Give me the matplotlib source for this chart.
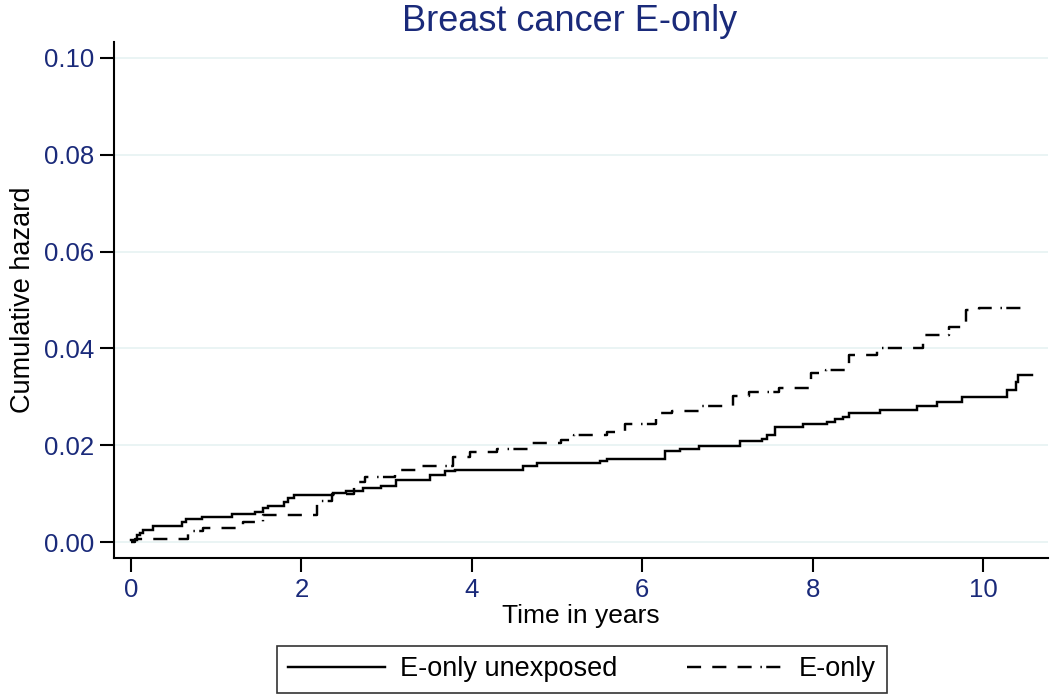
import matplotlib
matplotlib.use("Agg")
import matplotlib.pyplot as plt
from matplotlib.lines import Line2D

plt.rcParams['font.family'] = ['Liberation Sans', 'DejaVu Sans']

# E-only unexposed (solid) step function: event times and cumulative hazard after step
unexp_t = [0.0, 0.07, 0.10, 0.14, 0.26, 0.60, 0.65, 0.83, 1.18, 1.45, 1.55, 1.61, 1.79,
           1.84, 1.91, 2.37, 2.52, 2.72, 2.93, 3.11, 3.51, 3.69, 3.80, 4.60, 4.76, 5.50,
           5.58, 6.27, 6.44, 6.66, 7.15, 7.40, 7.46, 7.56, 7.89, 8.17, 8.26, 8.36, 8.42,
           8.79, 9.22, 9.46, 9.75, 10.28, 10.38, 10.41, 10.57]
unexp_h = [0.0004, 0.0014, 0.0020, 0.0025, 0.0033, 0.0042, 0.0047, 0.0051, 0.0058, 0.0063,
           0.0070, 0.0075, 0.0083, 0.0092, 0.0097, 0.0102, 0.0106, 0.0111, 0.0116, 0.0128,
           0.0138, 0.0146, 0.0150, 0.0157, 0.0163, 0.0168, 0.0171, 0.0189, 0.0192, 0.0199,
           0.0209, 0.0214, 0.0221, 0.0238, 0.0243, 0.0249, 0.0254, 0.0259, 0.0266, 0.0272,
           0.0282, 0.0289, 0.0299, 0.0314, 0.0331, 0.0345, 0.0345]

# E-only (dashed)
eonly_t = [0.0, 0.05, 0.67, 0.85, 1.31, 1.55, 2.18, 2.36, 2.62, 2.75, 3.10, 3.42, 3.78,
           3.98, 4.30, 4.66, 5.05, 5.20, 5.58, 5.80, 6.16, 6.35, 6.68, 7.07, 7.25, 7.60,
           7.98, 8.16, 8.42, 8.75, 9.30, 9.60, 9.80, 9.95, 10.55]
eonly_h = [0.0, 0.0006, 0.0023, 0.0029, 0.0042, 0.0057, 0.0085, 0.0100, 0.0125, 0.0134,
           0.0150, 0.0158, 0.0175, 0.0186, 0.0192, 0.0204, 0.0211, 0.0221, 0.0228, 0.0244,
           0.0266, 0.0271, 0.0282, 0.0301, 0.0310, 0.0318, 0.0349, 0.0356, 0.0386, 0.0400,
           0.0428, 0.0445, 0.0479, 0.0483, 0.0483]

x_ticks = [0, 2, 4, 6, 8, 10]
y_ticks = [0.00, 0.02, 0.04, 0.06, 0.08, 0.10]
y_labels = ["0.00", "0.02", "0.04", "0.06", "0.08", "0.10"]

navy = '#1a2a7a'
dash_style = (0, (5.8, 4.6, 5.8, 4.6, 5.8, 3.6, 0.6, 1.8))
LW = 1.75

fig = plt.figure(figsize=(10.5, 6.96), dpi=100)
ax = fig.add_axes([0.1086, 0.198, 0.8894, 0.742])

ax.step(unexp_t, unexp_h, where='post', color='black', lw=LW, solid_joinstyle='miter')
ax.step(eonly_t, eonly_h, where='post', color='black', lw=LW, linestyle=dash_style)

ax.set_xlim(-0.2, 10.76)
ax.set_ylim(-0.0033, 0.1033)
ax.set_xticks(x_ticks)
ax.set_yticks(y_ticks)
ax.set_yticklabels(y_labels)
for s in ['top', 'right']:
    ax.spines[s].set_visible(False)
for s in ['left', 'bottom']:
    ax.spines[s].set_linewidth(1.5)
ax.tick_params(axis='both', length=10, width=1.5, labelsize=18.5, labelcolor=navy, pad=4)
ax.yaxis.grid(True, color='#e6f2f2', lw=1.2)
ax.set_axisbelow(True)

ax.set_xlabel('Time in years', fontsize=19, labelpad=2)
ax.set_ylabel('Cumulative hazard', fontsize=19.5, labelpad=6)
ax.set_title('Breast cancer E-only', fontsize=26, color=navy, pad=8, x=0.488)

handles = [Line2D([0], [0], color='black', lw=LW),
           Line2D([0], [0], color='black', lw=LW, linestyle=dash_style)]
leg = fig.legend(handles, ['E-only unexposed', 'E-only'], loc='center',
                 bbox_to_anchor=(0.5543, 0.0385), ncol=2, fontsize=19.5, frameon=True,
                 fancybox=False, edgecolor='black', handlelength=3.6, columnspacing=2.55,
                 handletextpad=0.55, borderpad=0.39, borderaxespad=0.0)
leg.get_frame().set_linewidth(1.2)

fig.savefig('out.png', dpi=100, facecolor='white')
